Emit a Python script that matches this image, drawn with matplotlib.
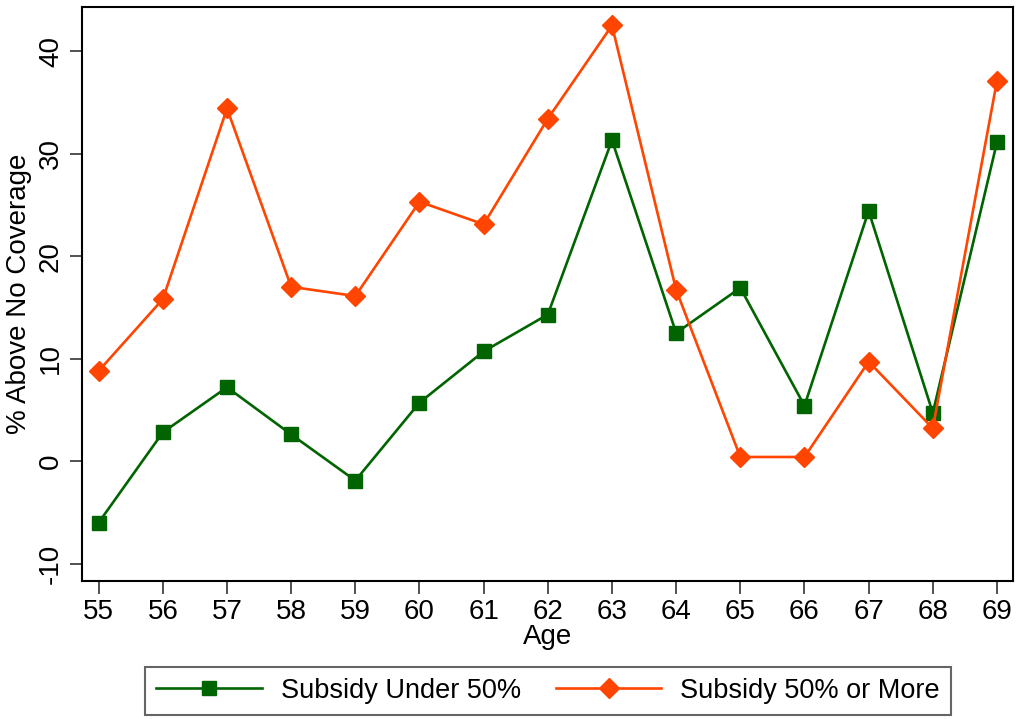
import matplotlib
matplotlib.use("Agg")
import matplotlib.pyplot as plt

plt.rcParams['font.family'] = ['Liberation Sans', 'DejaVu Sans']

ages = [55, 56, 57, 58, 59, 60, 61, 62, 63, 64, 65, 66, 67, 68, 69]
under50 = [-6.0, 2.8, 7.2, 2.6, -1.9, 5.7, 10.7, 14.3, 31.3, 12.5, 16.9, 5.4, 24.4, 4.7, 31.1]
over50 = [8.8, 15.8, 34.4, 17.0, 16.1, 25.3, 23.1, 33.4, 42.5, 16.7, 0.4, 0.4, 9.7, 3.2, 37.1]
yticks = [-10, 0, 10, 20, 30, 40]
labels = ["Subsidy Under 50%", "Subsidy 50% or More"]

fig = plt.figure(figsize=(10.16, 7.19), dpi=100)
ax = fig.add_axes([82/1016, 1-581/719, (1013-82)/1016, (581-7)/719])

green = '#006400'
orange = '#FF4500'
ax.plot(ages, under50, color=green, lw=1.9, marker='s', ms=10, label=labels[0])
ax.plot(ages, over50, color=orange, lw=1.9, marker='D', ms=10.5, label=labels[1])

ax.set_xlim(54.74, 69.25)
ax.set_ylim(-11.7, 44.3)
ax.set_xticks(ages)
ax.set_yticks(yticks)
ax.set_yticklabels([str(v) for v in yticks], rotation=90, va='center')
ax.tick_params(labelsize=20, length=9, width=1.2, color='#333333', pad=4)
for s in ax.spines.values():
    s.set_linewidth(1.5)
ax.set_xlabel("Age", fontsize=20, labelpad=-1)
ax.set_ylabel("% Above No Coverage", fontsize=20, labelpad=4)

leg = fig.legend(loc='lower center', bbox_to_anchor=(548/1016, -0.013), ncol=2,
                 fontsize=19.5, handlelength=3.9, columnspacing=1.3, frameon=True,
                 fancybox=False, edgecolor='#404040', borderpad=0.4, handletextpad=0.7)
leg.get_frame().set_linewidth(1.5)

fig.savefig("out.png", dpi=100)
